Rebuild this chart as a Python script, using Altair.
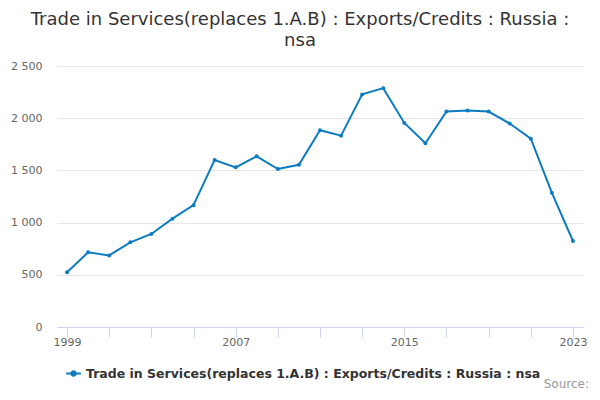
import altair as alt
import pandas as pd

years = list(range(1999, 2024))
values = [525, 715, 686, 811, 891, 1038, 1167, 1599, 1529, 1635, 1513, 1554,
          1885, 1833, 2228, 2288, 1955, 1760, 2064, 2074, 2064, 1949, 1804,
          1285, 824]
series_name = "Trade in Services(replaces 1.A.B) : Exports/Credits : Russia : nsa"
x_ticks = list(range(1999, 2024, 2))
y_ticks = [0, 500, 1000, 1500, 2000, 2500]
source_text = ["Source:"]

df = pd.DataFrame({"year": years, "value": values, "series": series_name})
BLUE = "#0d7cc0"
FONT = "DejaVu Sans"

base = alt.Chart(df).encode(
    x=alt.X("year:Q",
            scale=alt.Scale(domain=[1998.524, 2023.476], nice=False, zero=False),
            axis=alt.Axis(values=x_ticks, title=None, grid=False,
                          labelExpr="(datum.value - 1999) % 8 == 0 ? datum.value : ''",
                          tickSize=10, tickColor="#ccd6eb", domainColor="#ccd6eb",
                          labelColor="#666666", labelFontSize=11, labelFont=FONT,
                          labelPadding=-1, labelFlush=False)),
    y=alt.Y("value:Q", scale=alt.Scale(domain=[0, 2500], nice=False),
            axis=alt.Axis(values=y_ticks, title=None, grid=True, gridColor="#e6e6e6",
                          domain=False, ticks=False,
                          labelExpr="replace(format(datum.value, ','), ',', ' ')",
                          labelColor="#666666", labelFontSize=11, labelFont=FONT,
                          labelPadding=15)),
    color=alt.Color("series:N", scale=alt.Scale(range=[BLUE]),
                    legend=alt.Legend(title=None, orient="none", legendX=8, legendY=299,
                                      symbolType="M-1,0H1M-0.3,0A0.3,0.3,0,1,1,0.3,0A0.3,0.3,0,1,1,-0.3,0",
                                      symbolSize=220, symbolStrokeWidth=2,
                                      symbolFillColor=BLUE,
                                      labelFont=FONT, labelFontSize=12.5, labelFontWeight="bold",
                                      labelColor="#333333", labelLimit=600)),
)

line = base.mark_line(strokeWidth=2)
pts = base.mark_point(filled=True, size=16, opacity=1)

src = alt.Chart(pd.DataFrame({"t": source_text})).mark_text(
    align="right", baseline="alphabetic", font=FONT, fontSize=12, color="#999999"
).encode(text="t:N", x=alt.value(532), y=alt.value(322))

chart = alt.layer(line, pts, src).properties(
    width=526, height=261,
    autosize=alt.AutoSizeParams(type="none"),
    padding={"left": 49, "top": 58, "right": 9, "bottom": 65},
    title=alt.TitleParams(
        text=["Trade in Services(replaces 1.A.B) : Exports/Credits : Russia :", "nsa"],
        anchor="middle", font=FONT, fontSize=18, fontWeight="normal",
        color="#333333", dx=-20, offset=10, lineHeight=21),
).configure_view(stroke=None).configure_axis(labelFont=FONT)

chart.save("out.html", embed_options={"renderer": "svg", "actions": False})
